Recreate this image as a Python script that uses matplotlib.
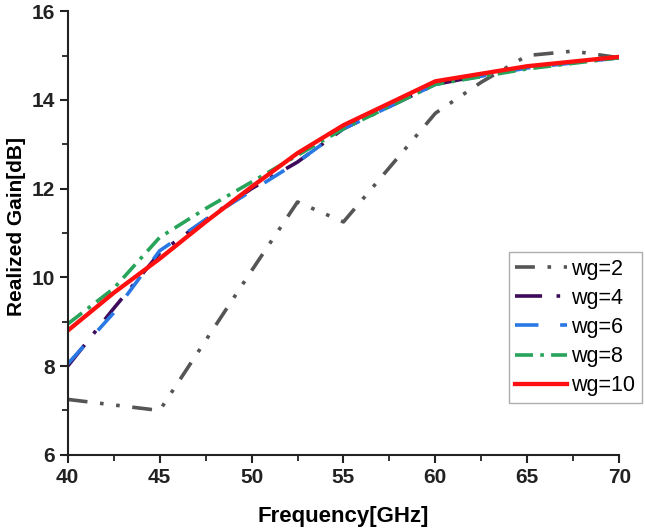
import numpy as np
import matplotlib
matplotlib.use('Agg')
import matplotlib.pyplot as plt
from matplotlib.ticker import MultipleLocator

plt.rcParams['font.family'] = ['Liberation Sans', 'DejaVu Sans']

# dados
f_wg2 = [40, 45, 50, 52.5, 55, 60, 62.5, 65, 67.5, 70]
g_wg2 = [7.25, 7.0, 10.15, 11.7, 11.25, 13.7, 14.4, 15.0, 15.1, 14.95]

f_wg = [40, 42.5, 45, 47.5, 50, 52.5, 55, 60, 65, 70]
g_wg4 = [8.0, 9.3, 10.55, 11.3, 12.0, 12.6, 13.35, 14.35, 14.75, 14.95]
g_wg6 = [8.05, 9.2, 10.6, 11.3, 11.95, 12.6, 13.35, 14.35, 14.72, 14.95]
g_wg8 = [8.95, 9.75, 10.9, 11.55, 12.15, 12.75, 13.35, 14.35, 14.7, 14.95]
g_wg10 = [8.8, 9.65, 10.42, 11.25, 12.04, 12.8, 13.43, 14.42, 14.76, 14.97]

fig = plt.figure(figsize=(6.45, 5.32), dpi=100)
ax = fig.add_axes([0.105, 0.145, 0.855, 0.834])

lw = 2.6
ax.plot(f_wg2, g_wg2, color='#555555', lw=lw, linestyle=(0, (5.5, 3.5, 1, 3.5, 1, 3.5)), label='wg=2')
ax.plot(f_wg, g_wg4, color='#3d0a5c', lw=lw, linestyle=(0, (7.5, 4, 1, 4)), label='wg=4')
ax.plot(f_wg, g_wg6, color='#2a78e4', lw=lw, linestyle=(0, (6.5, 6)), label='wg=6')
ax.plot(f_wg, g_wg8, color='#27a35a', lw=lw, linestyle=(0, (5, 2, 1, 2)), label='wg=8')
ax.plot(f_wg, g_wg10, color='#ff1010', lw=lw + 0.5, linestyle='-', label='wg=10')

ax.set_xlim(40, 70)
ax.set_ylim(6, 16)
ax.xaxis.set_major_locator(MultipleLocator(5))
ax.xaxis.set_minor_locator(MultipleLocator(2.5))
ax.yaxis.set_major_locator(MultipleLocator(2))
ax.yaxis.set_minor_locator(MultipleLocator(1))

ax.spines['top'].set_visible(False)
ax.spines['right'].set_visible(False)
for s in ['left', 'bottom']:
    ax.spines[s].set_linewidth(1.5)
    ax.spines[s].set_color('#222222')
ax.tick_params(which='major', direction='out', length=6, width=1.5, labelsize=15, colors='#222222')
ax.tick_params(which='minor', direction='out', length=4, width=1.3, colors='#222222')
for lab in ax.get_xticklabels() + ax.get_yticklabels():
    lab.set_fontweight('bold')

ax.set_xlabel('Frequency[GHz]', fontsize=16, fontweight='bold', labelpad=14)
ax.set_ylabel('Realized Gain[dB]', fontsize=15, fontweight='bold', labelpad=8)
ax.yaxis.set_label_coords(-0.075, 0.515)

leg = ax.legend(loc='upper left', bbox_to_anchor=(0.789, 0.526), bbox_transform=fig.transFigure,
                fontsize=15.5, handlelength=2.4, handletextpad=0.2, borderpad=0.3,
                labelspacing=0.38, fancybox=False, borderaxespad=0)
leg.get_frame().set_edgecolor('#999999')
leg.get_frame().set_linewidth(1.0)

fig.savefig('out.png', dpi=100)
